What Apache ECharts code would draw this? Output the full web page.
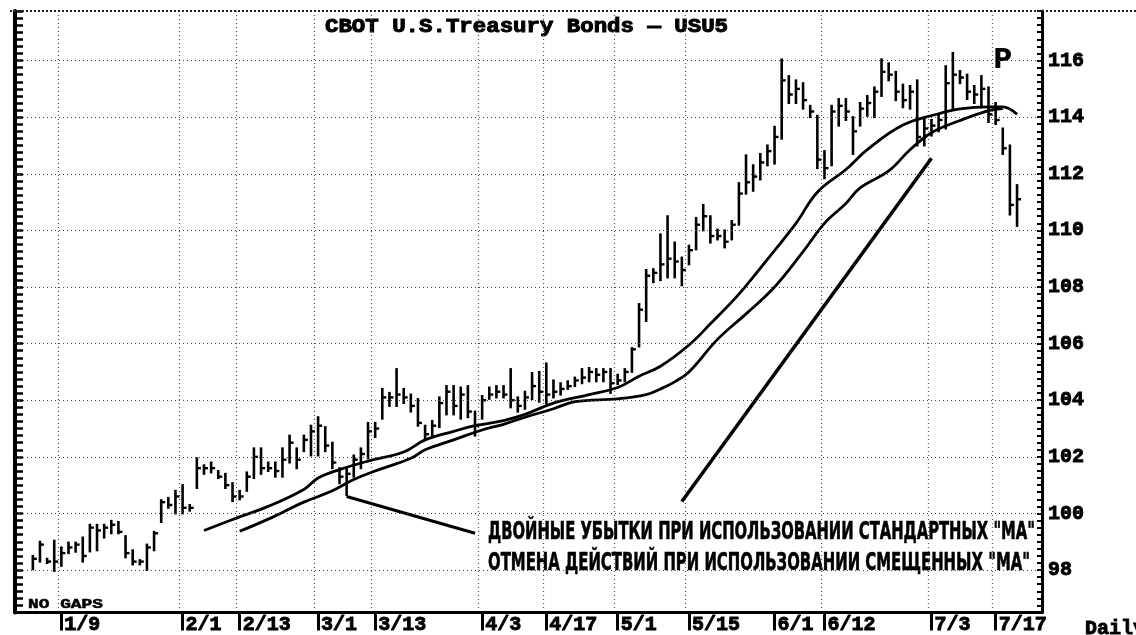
<!DOCTYPE html>
<html><head><meta charset="utf-8">
<script src="https://cdn.jsdelivr.net/npm/echarts@6/dist/echarts.min.js"></script>
<style>html,body{margin:0;padding:0;background:#fff;} #chart{width:1136px;height:635px;}</style>
</head><body><div id="chart"></div>
<script>
// trading-day categories (Dec 1994 - Jul 1995)
const dates = ['12/29','12/30','1/3','1/4','1/5','1/6','1/9','1/10','1/11','1/12','1/13','1/16','1/17','1/18','1/19','1/20','1/23','1/24','1/25','1/26','1/27','1/30','1/31',
'2/1','2/2','2/3','2/6','2/7','2/8','2/9','2/10','2/13','2/14','2/15','2/16','2/17','2/21','2/22','2/23','2/24','2/27','2/28',
'3/1','3/2','3/3','3/6','3/7','3/8','3/9','3/10','3/13','3/14','3/15','3/16','3/17','3/20','3/21','3/22','3/23','3/24','3/27','3/28','3/29','3/30','3/31',
'4/3','4/4','4/5','4/6','4/7','4/10','4/11','4/12','4/13','4/17','4/18','4/19','4/20','4/21','4/24','4/25','4/26','4/27','4/28',
'5/1','5/2','5/3','5/4','5/5','5/8','5/9','5/10','5/11','5/12','5/15','5/16','5/17','5/18','5/19','5/22','5/23','5/24','5/25','5/26','5/30','5/31',
'6/1','6/2','6/5','6/6','6/7','6/8','6/9','6/12','6/13','6/14','6/15','6/16','6/19','6/20','6/21','6/22','6/23','6/26','6/27','6/28','6/29','6/30',
'7/3','7/5','7/6','7/7','7/10','7/11','7/12','7/13','7/14','7/17','7/18','7/19','7/20','7/21','7/24','7/25'];
const labelDates = ['1/9','2/1','2/13','3/1','3/13','4/3','4/17','5/1','5/15','6/1','6/12','7/3','7/17'];
const gridDates = ['1/9','2/1','2/13','3/1','3/13','4/3','4/17','5/1','5/15','6/12','7/3','7/17'];
const priceTicks = [98,100,102,104,106,108,110,112,114,116];
const firstBarDate = '1/3';

const highs = [98.5, 99.0, 98.4, 99.04, 98.8, 98.97, 98.97, 99.15, 99.6, 99.6,
 99.6, 99.74, 99.7, 99.2, 98.7, 98.35, 98.9, 99.35, 100.47, 100.55,
 100.8, 101.0, 100.3, 101.95, 101.7, 101.8, 101.5, 101.4, 101.07, 100.8,
 101.45, 102.3, 102.3, 101.8, 101.8, 102.3, 102.75, 102.3, 102.75, 103.1,
 103.4, 103.05, 102.5, 101.6, 101.6, 102.05, 102.3, 103.2, 103.2, 104.4,
 104.26, 105.1, 104.4, 104.2, 104.04, 103.1, 103.27, 104.1, 104.5, 104.5,
 104.45, 104.5, 103.6, 104.15, 104.45, 104.5, 104.5, 105.1, 104.1, 104.3,
 104.96, 105.0, 105.3, 104.7, 104.6, 104.67, 104.8, 105.1, 105.14, 105.1,
 105.1, 105.1, 104.9, 105.1, 105.84, 107.4, 108.6, 108.63, 109.86, 110.5,
 109.57, 109.04, 109.46, 110.44, 110.9, 110.5, 110.03, 110.0, 110.33, 111.67,
 112.65, 112.3, 112.7, 113.0, 113.66, 116.04, 115.45, 115.3, 115.2, 114.4,
 114.05, 112.8, 114.4, 114.64, 114.64, 114.0, 114.5, 114.75, 115.05, 116.04,
 115.9, 115.6, 115.15, 115.1, 115.3, 114.0, 113.9, 114.1, 115.8, 116.27,
 115.63, 115.5, 115.1, 115.45, 115.05, 114.5, 113.6, 113.0, 111.6];
const lows = [98.03, 98.3, 98.25, 97.97, 98.15, 98.6, 98.65, 98.3, 98.66, 98.7,
 99.15, 99.3, 99.3, 98.45, 98.2, 98.2, 98.0, 98.7, 99.7, 100.2,
 100.0, 100.0, 100.1, 100.9, 101.4, 101.45, 101.25, 100.9, 100.44, 100.5,
 100.8, 101.25, 101.4, 101.5, 101.3, 101.3, 101.8, 101.6, 102.2, 102.05,
 102.05, 102.2, 101.6, 101.07, 100.65, 101.3, 101.6, 101.95, 102.7, 103.35,
 103.8, 103.8, 103.9, 103.6, 103.1, 102.65, 102.75, 103.05, 103.5, 103.5,
 103.35, 103.4, 102.75, 103.35, 104.05, 104.1, 104.1, 103.75, 103.6, 103.7,
 104.04, 103.95, 103.9, 104.1, 104.2, 104.4, 104.5, 104.6, 104.67, 104.67,
 104.67, 104.26, 104.57, 104.67, 105.0, 105.9, 106.8, 108.17, 108.24, 108.34,
 108.34, 108.06, 108.8, 109.33, 110.0, 109.57, 109.68, 109.4, 109.68, 110.2,
 111.3, 111.4, 111.8, 112.3, 112.36, 113.24, 114.5, 114.5, 114.3, 114.0,
 112.2, 111.84, 112.3, 113.7, 113.9, 112.7, 113.7, 114.05, 114.0, 114.75,
 115.3, 114.6, 114.35, 114.3, 113.0, 113.0, 113.35, 113.5, 113.6, 114.3,
 115.2, 114.64, 114.5, 114.35, 113.83, 113.76, 112.7, 110.56, 110.16];
const closes = [98.4, 98.9, 98.3, 98.3, 98.6, 98.8, 98.9, 98.5, 99.5, 99.4,
 99.5, 99.6, 99.35, 98.6, 98.3, 98.3, 98.8, 99.3, 100.4, 100.3,
 100.6, 100.2, 100.2, 101.6, 101.6, 101.6, 101.3, 101.0, 100.6, 100.6,
 101.3, 102.0, 101.6, 101.6, 101.5, 101.9, 102.5, 101.9, 102.6, 102.9,
 103.1, 102.4, 101.8, 101.3, 101.4, 101.9, 102.1, 102.9, 103.0, 104.1,
 104.1, 104.2, 104.1, 103.8, 103.2, 102.8, 103.1, 103.9, 104.3, 103.8,
 104.2, 103.6, 103.1, 104.0, 104.2, 104.3, 104.2, 104.0, 103.8, 104.1,
 104.5, 104.3, 104.2, 104.3, 104.4, 104.5, 104.7, 104.8, 105.0, 104.9,
 105.0, 104.6, 104.7, 105.0, 105.8, 107.2, 108.4, 108.5, 108.8, 109.0,
 108.9, 108.6, 109.3, 110.2, 110.5, 109.8, 109.8, 109.6, 110.2, 111.3,
 111.7, 111.9, 112.4, 112.8, 113.3, 115.3, 114.8, 115.0, 114.6, 114.2,
 112.5, 112.2, 114.2, 114.4, 114.2, 113.5, 114.3, 114.5, 114.9, 115.6,
 115.5, 114.9, 114.6, 114.9, 113.3, 113.6, 113.7, 113.9, 115.2, 115.5,
 115.4, 114.9, 114.8, 115.0, 114.1, 113.9, 112.9, 110.9, 111.1];

// standard moving average (upper line)
const maStandard = [['2/6',99.40],['2/13',99.88],['2/17',100.25],['2/27',100.85],['3/1',101.25],['3/6',101.55],
 ['3/10',101.85],['3/17',102.17],['3/22',102.6],['3/28',102.9],['3/31',103.1],['4/6',103.28],['4/11',103.5],
 ['4/18',103.9],['4/25',104.2],['5/1',104.45],['5/4',104.85],['5/9',105.2],['5/15',105.95],['5/18',106.7],
 ['5/24',107.75],['5/31',108.98],['6/6',110.25],['6/9',111.35],['6/15',112.15],['6/20',112.85],['6/27',113.72],
 ['7/5',114.12],['7/10',114.29],['7/14',114.36],['7/18',114.36],['7/20',114.1]];
// displaced moving average (lower line)
const maDisplaced = [['2/13',99.37],['2/17',99.8],['2/27',100.4],['3/3',100.8],['3/8',101.2],['3/13',101.5],
 ['3/20',101.95],['3/22',102.25],['3/28',102.6],['4/3',102.95],['4/6',103.15],['4/11',103.4],['4/18',103.7],
 ['4/21',103.95],['5/1',104.05],['5/5',104.2],['5/9',104.4],['5/11',104.65],['5/15',105.0],['5/19',106.15],
 ['5/25',107.05],['6/1',108.0],['6/7',109.25],['6/12',110.25],['6/15',110.95],['6/19',111.5],['6/23',112.1],
 ['6/28',112.85],['7/3',113.45],['7/10',113.88],['7/14',114.23],['7/18',114.3]];
const pointerLine = [['3/7',100.6],['3/31',99.3]];
const trendLine = [['5/12',100.42],['7/3',112.55]];

const textLine1 = 'ДВОЙНЫЕ УБЫТКИ ПРИ ИСПОЛЬЗОВАНИИ СТАНДАРТНЫХ "МА"';
const textLine2 = 'ОТМЕНА ДЕЙСТВИЙ ПРИ ИСПОЛЬЗОВАНИИ СМЕЩЕННЫХ "МА"';
const titleText = 'CBOT U.S.Treasury Bonds — USU5';

const mctx = document.createElement('canvas').getContext('2d');
function fit(text, font, w){ mctx.font = font; return w / mctx.measureText(text).width; }

const start = dates.indexOf(firstBarDate);
const barData = highs.map((h,i)=>[start+i, h, lows[i], closes[i]]);
const MONO = '"Liberation Mono", "DejaVu Sans Mono", monospace';
const fTitle = 'bold 20px ' + MONO;
const fRus = 'bold 25px "Liberation Sans Narrow", "DejaVu Sans Condensed", "Liberation Sans", sans-serif';
const fGaps = 'bold 13px ' + MONO;

const chart = echarts.init(document.getElementById('chart'));
const yCommon = {type:'value', min:96.5, max:117.75, interval:0.25, scale:true,
  splitLine:{show:false}};
const labelStyle = {color:'#000', fontFamily:MONO, fontWeight:'bold', fontSize:20,
  textBorderColor:'#000', textBorderWidth:0.9};
chart.setOption({
  animation:false,
  backgroundColor:'#ffffff',
  grid:{left:15, right:94, top:11, bottom:16.25, containLabel:false},
  xAxis:[{
    type:'category', data:dates, boundaryGap:true,
    axisLine:{show:true, lineStyle:{color:'#000', width:3}},
    axisTick:{show:true, alignWithLabel:true, length:18, lineStyle:{color:'#000', width:3},
      interval:(i)=>labelDates.includes(dates[i])},
    axisLabel:Object.assign({interval:(i)=>labelDates.includes(dates[i]), align:'left', margin:2,
      padding:[0,0,0,3]}, labelStyle),
    splitLine:{show:true, interval:(i)=>gridDates.includes(dates[i]),
      lineStyle:{color:'#555', type:[1,3], width:1.2}}
  }],
  yAxis:[
    Object.assign({}, yCommon, {position:'right',
      axisLine:{show:true, lineStyle:{color:'#000', width:3}},
      axisTick:{show:true, inside:true, length:5, lineStyle:{color:'#000', width:2}},
      axisLabel:Object.assign({margin:6,
        formatter:(v)=> priceTicks.some(t=>Math.abs(t-v)<1e-6) ? String(Math.round(v)) : ''}, labelStyle)}),
    Object.assign({}, yCommon, {position:'left',
      axisLine:{show:true, lineStyle:{color:'#000', width:4}},
      axisTick:{show:true, inside:true, length:8, lineStyle:{color:'#000', width:2.5}},
      axisLabel:{show:false}})
  ],
  series:[
    {type:'line', name:'grid', data:[], yAxisIndex:0, silent:true,
     markLine:{silent:true, symbol:'none', label:{show:false},
       lineStyle:{color:'#444', type:[1,3], width:1.2},
       data: priceTicks.map(v=>({yAxis:v}))}},
    {type:'custom', name:'USU5', yAxisIndex:0, data:barData, encode:{x:0, y:[1,2,3]},
     renderItem:function(params, api){
       const x = api.value(0);
       const pH = api.coord([x, api.value(1)]);
       const pL = api.coord([x, api.value(2)]);
       const pC = api.coord([x, api.value(3)]);
       return {type:'group', children:[
         {type:'line', shape:{x1:pH[0], y1:pH[1]-1, x2:pL[0], y2:pL[1]+1}, style:{stroke:'#000', lineWidth:2.6}},
         {type:'line', shape:{x1:pC[0], y1:pC[1], x2:pC[0]+4, y2:pC[1]}, style:{stroke:'#000', lineWidth:2.4}}
       ]};
     }},
    {type:'line', name:'MA', data:maStandard, smooth:0.4, showSymbol:false, yAxisIndex:0,
     lineStyle:{color:'#000', width:2.8}},
    {type:'line', name:'MA displaced', data:maDisplaced, smooth:0.4, showSymbol:false, yAxisIndex:0,
     lineStyle:{color:'#000', width:2.8}},
    {type:'line', data:pointerLine, showSymbol:false, yAxisIndex:0, lineStyle:{color:'#000', width:3}},
    {type:'line', data:trendLine, showSymbol:false, yAxisIndex:0, lineStyle:{color:'#000', width:3.5}}
  ],
  graphic:[
    {type:'line', shape:{x1:10, y1:11, x2:1136, y2:11}, style:{stroke:'#222', lineWidth:2, lineDash:[2,2]}, z:10},
    {type:'text', x:325, y:27, scaleX:fit(titleText, fTitle, 403),
      style:{text:titleText, font:fTitle, fill:'#000', stroke:'#000', lineWidth:1, verticalAlign:'middle', align:'left'}},
    {type:'text', x:993, y:61,
      style:{text:'P', font:'bold 26px "DejaVu Sans", sans-serif', fill:'#000', verticalAlign:'middle', align:'left'}},
    {type:'text', x:488, y:532, scaleX:fit(textLine1, fRus, 547),
      style:{text:textLine1, font:fRus, fill:'#000', stroke:'#000', lineWidth:0.6, verticalAlign:'middle', align:'left'}},
    {type:'text', x:488, y:563, scaleX:fit(textLine2, fRus, 542),
      style:{text:textLine2, font:fRus, fill:'#000', stroke:'#000', lineWidth:0.6, verticalAlign:'middle', align:'left'}},
    {type:'text', x:28, y:605, scaleX:fit('NO GAPS', fGaps, 75),
      style:{text:'NO GAPS', font:fGaps, fill:'#000', stroke:'#000', lineWidth:0.5, verticalAlign:'middle', align:'left'}},
    {type:'text', x:1085, y:629,
      style:{text:'Daily', font:'bold 20px ' + MONO, fill:'#000', stroke:'#000', lineWidth:0.9, verticalAlign:'middle', align:'left'}}
  ]
});
</script>
</body></html>
